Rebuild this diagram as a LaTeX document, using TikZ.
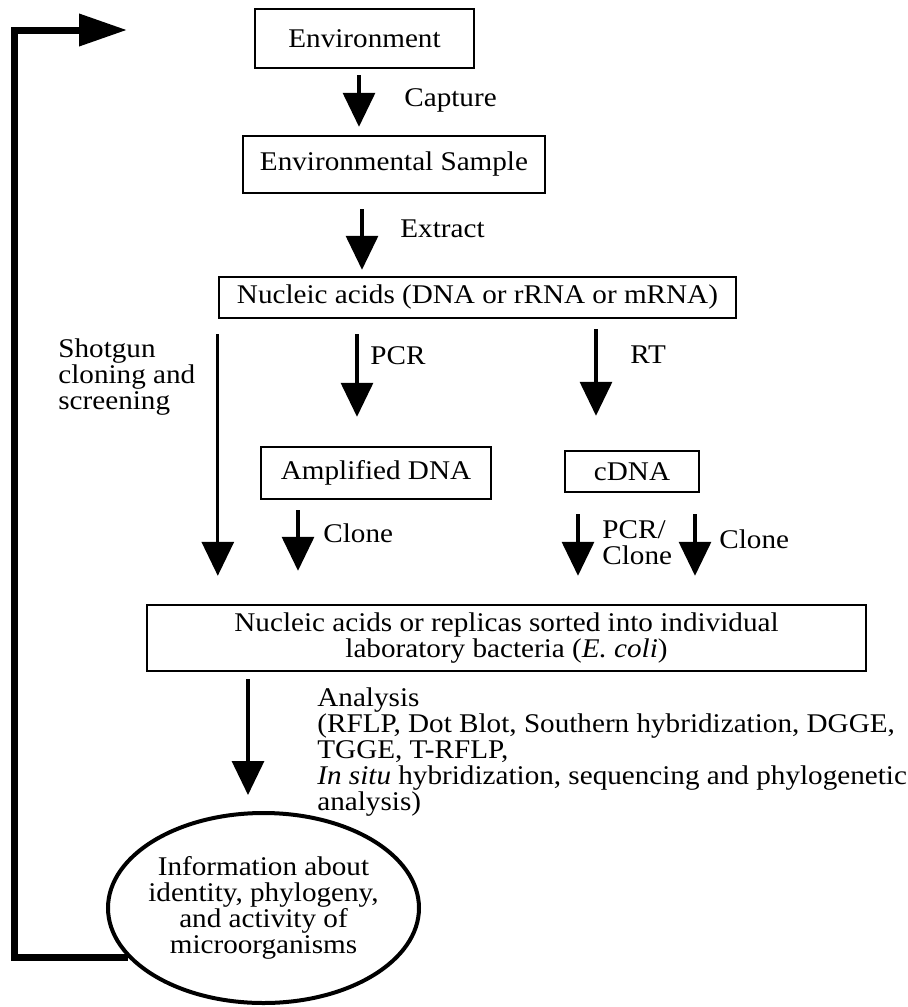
\documentclass[tikz,border=0pt]{standalone}
\usepackage{fontspec}
\setmainfont{Liberation Serif}[FakeStretch=1.08]
\usetikzlibrary{positioning, arrows.meta, shapes.geometric, calc}

\begin{document}
\begin{tikzpicture}[x=0.5pt, y=-0.5pt,
        every node/.style={font=\fontsize{13.5pt}{12.9pt}\selectfont},
        stepbox/.style={draw, line width=1.2pt, inner sep=0pt,
            align=center},
        infoell/.style={draw, ellipse, line width=2pt, inner xsep=-15pt,
            inner ysep=-10pt, minimum width=155.5pt, minimum height=95pt,
            align=center},
        lbl/.style={anchor=west, align=left, inner sep=0pt},
        arr/.style={-{Triangle[width=16pt, length=17pt]}, line width=1.6pt},
        fback/.style={-{Triangle[width=15.5pt, length=24pt]},
            line width=3.5pt}
    ]
    \useasboundingbox (0,0) rectangle (907,1007);

    \node[stepbox, minimum width=109.5pt, minimum height=29.5pt] (env)
        at (364.5,38.5) {Environment};
    \node[lbl] (capture) at (404,100) {Capture};

    \node[stepbox, minimum width=151pt, minimum height=28.5pt] (sample)
        at (394,164.5) {Environmental Sample};
    \node[lbl] (extract) at (400,229) {Extract};

    \node[stepbox, minimum width=258.5pt, minimum height=20.5pt] (nucleic)
        at (477.5,297.5) {Nucleic acids (DNA or rRNA or mRNA)};

    \node[lbl] (shotgun) at (58,377) {Shotgun\\cloning and\\screening};
    \node[lbl] (pcr) at (370,356) {PCR};
    \node[lbl] (rt) at (630,355) {RT};

    \node[stepbox, minimum width=115pt, minimum height=26pt] (amp)
        at (376,473) {Amplified DNA};
    \node[stepbox, minimum width=67pt, minimum height=20.5pt] (cdna)
        at (632,471.5) {cDNA};

    \node[lbl] (clone1) at (323,533) {Clone};
    \node[lbl] (pcrclone) at (602,543) {PCR/\\Clone};
    \node[lbl] (clone2) at (719,539) {Clone};

    \node[stepbox, minimum width=359.5pt, minimum height=33pt] (sorted)
        at (506.5,638) {Nucleic acids or replicas sorted into individual\\
        laboratory bacteria (\textit{E. coli})};

    \node[lbl] (analysis) at (317,752) {Analysis\\
        (RFLP, Dot Blot, Southern hybridization, DGGE,\\
        TGGE, T-RFLP,\\
        \textit{In situ} hybridization, sequencing and phylogenetic\\
        analysis)};

    \node[infoell] (info) at (263.5,908)
        {Information about\\identity, phylogeny,\\and activity of\\microorganisms};

    % down arrows
    \draw[arr] ($(env.south)+(-5.5,6)$) -- ($(env.south |- sample.north)+(-5.5,-8)$);
    \draw[arr] ($(sample.south)+(-32,15)$) -- ($(sample.south |- nucleic.north)+(-32,-6)$);
    \draw[arr] ($(nucleic.south west)+(0,15)$) -- ($(nucleic.south west |- sorted.north)+(0,-28)$);
    \draw[arr] ($(nucleic.south -| amp.north)+(-19,15)$) -- ($(amp.north)+(-19,-29)$);
    \draw[arr] ($(nucleic.south -| cdna.north)+(-36,10)$) -- ($(cdna.north)+(-36,-34)$);
    \draw[arr] ($(amp.south)+(-78,10)$) -- ($(amp.south |- sorted.north)+(-78,-33)$);
    \draw[arr] ($(cdna.south)+(-54,21)$) -- ($(cdna.south |- sorted.north)+(-54,-28)$);
    \draw[arr] ($(cdna.south)+(63,21)$) -- ($(cdna.south |- sorted.north)+(63,-28)$);
    \draw[arr] ($(sorted.south -| info.north)+(-15.5,7)$) -- ($(info.north)+(-15.5,-16)$);

    % feedback loop
    \coordinate (turn) at (14.5,30);
    \coordinate (back) at (127,30);
    \draw[fback] (info.200) -| (turn) -- (back);
\end{tikzpicture}
\end{document}
